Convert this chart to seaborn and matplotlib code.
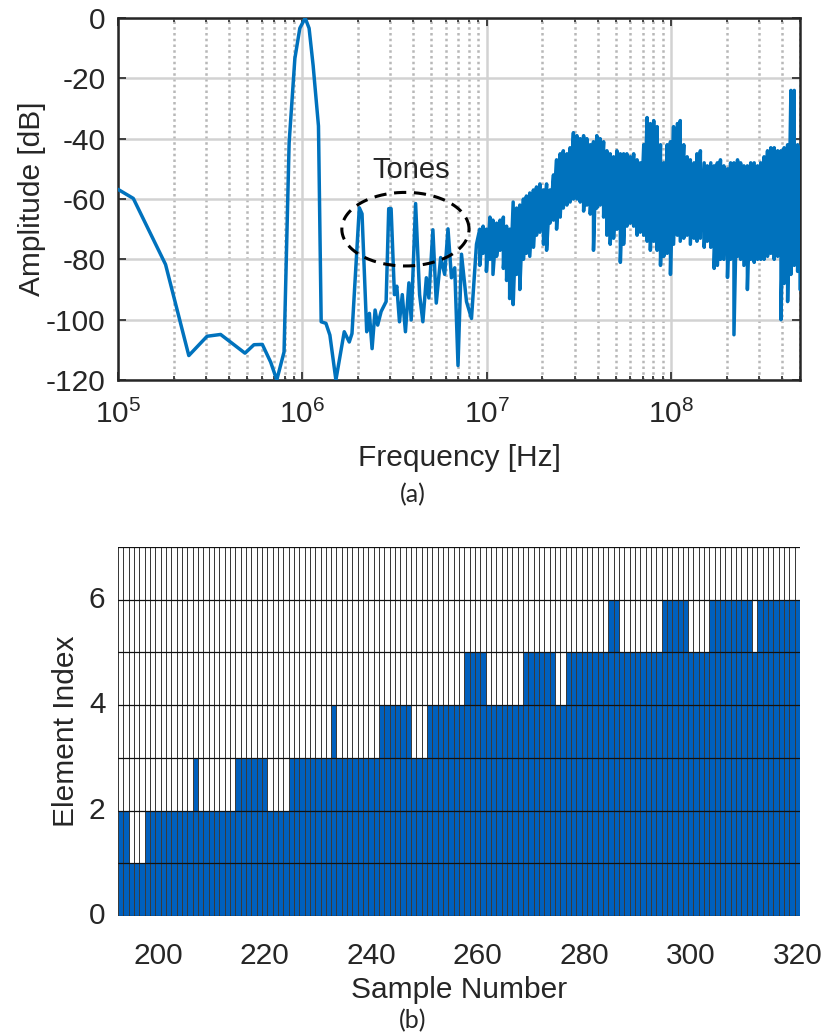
import numpy as np
import pandas as pd
import matplotlib
matplotlib.use("Agg")
import matplotlib.pyplot as plt
import seaborn as sns
from matplotlib.colors import ListedColormap
from matplotlib.ticker import LogLocator, NullFormatter

# (a) spectrum, low-frequency part traced point by point (MHz, dB)
lf_freq_mhz = [0.100, 0.121, 0.181, 0.242, 0.304, 0.360, 0.488, 0.546, 0.606, 0.673,
               0.726, 0.795, 0.847, 0.910, 0.968, 1.035, 1.087, 1.143, 1.222, 1.264,
               1.341, 1.409, 1.519, 1.686, 1.795, 1.857, 2.035, 2.105, 2.232, 2.308,
               2.387, 2.478, 2.560, 2.672, 2.760, 2.844, 2.938, 3.027, 3.155, 3.25,
               3.36, 3.48, 3.62, 3.78, 3.89, 4.11, 4.32, 4.50, 4.70, 4.85,
               5.10, 5.32, 5.62, 5.91, 6.16, 6.43, 6.70, 6.98, 7.29, 7.76,
               8.26, 8.79]
lf_db = [-56.8, -59.8, -81.7, -111.9, -105.5, -104.9, -111.1, -108.3, -108.2, -114.1,
         -120.0, -110.7, -41.4, -13.4, -3.4, 0.0, -3.4, -15.7, -35.8, -100.7,
         -101.2, -105.1, -120.0, -104.0, -107.4, -104.6, -62.9, -64.9, -104.0, -97.9,
         -109.6, -96.8, -101.8, -97.3, -95.6, -94.0, -63.2, -63.2, -91.7, -88.9,
         -100.7, -91.7, -104.0, -87.8, -100.1, -61.5, -91.7, -100.7, -86.1, -92.8,
         -70.2, -94.5, -79.4, -85.0, -69.9, -86.1, -82.8, -115.2, -78.3, -94.0,
         -99.6, -75.0]

# (a) spectrum, dense noise floor: upper / lower excursion read at each frequency
noise_freq_mhz = [9.16, 9.55, 9.95, 10.4, 10.8, 11.3, 11.8, 12.3, 12.8, 13.3,
                  13.9, 14.5, 15.1, 15.8, 16.4, 17.1, 17.9, 18.6, 19.4, 20.3,
                  21.1, 22.0, 23.0, 23.9, 25.0, 26.0, 27.2, 28.3, 29.5, 30.8,
                  32.1, 33.5, 34.9, 36.4, 37.9, 39.5, 41.2, 43.0, 44.8, 46.7,
                  48.7, 50.8, 53.0, 55.2, 57.5, 60.0, 62.6, 65.3, 68.0, 71.0,
                  74.0, 77.1, 80.4, 83.9, 87.5, 91.2, 95.1, 99.1, 103, 108,
                  112, 117, 122, 127, 133, 138, 144, 151, 157, 164,
                  171, 178, 185, 193, 202, 210, 219, 229, 238, 248,
                  259, 270, 282, 294, 306, 319, 333, 347, 362, 378,
                  394, 410, 428, 446, 465, 485, 500]
noise_hi = [-70, -69, -70, -66, -67, -68, -67, -66, -69, -70,
            -61, -63, -62, -60, -59, -58, -57, -56, -55, -57,
            -55, -57, -52, -47, -45, -44, -45, -43, -38, -39,
            -40, -39, -40, -42, -41, -39, -40, -41, -44, -45,
            -46, -44, -45, -45, -45, -46, -45, -47, -48, -42,
            -33, -35, -34, -36, -42, -48, -42, -41, -36, -35,
            -34, -42, -46, -47, -48, -45, -44, -48, -49, -48,
            -49, -48, -47, -49, -50, -48, -48, -47, -48, -49,
            -49, -48, -48, -49, -48, -46, -44, -43, -43, -44,
            -44, -43, -42, -24, -24, -42, -43]
noise_lo = [-82, -78, -84, -80, -85, -79, -77, -83, -87, -93,
            -95, -85, -90, -80, -78, -79, -76, -72, -71, -75,
            -77, -68, -67, -70, -66, -63, -62, -61, -60, -60,
            -61, -64, -62, -65, -77, -63, -62, -66, -72, -75,
            -73, -70, -81, -75, -69, -68, -69, -72, -71, -72,
            -74, -77, -74, -77, -82, -79, -78, -85, -75, -72,
            -74, -73, -72, -75, -73, -74, -73, -76, -74, -76,
            -83, -82, -80, -80, -86, -80, -105, -79, -80, -82,
            -90, -80, -81, -80, -80, -80, -79, -78, -80, -79,
            -100, -88, -94, -85, -82, -84, -90]

# "Tones" annotation: ellipse centre (MHz, dB), half-width (decades), half-height (dB)
tones_center = (3.62, -70.0)
tones_halfwidth_dec = 0.345
tones_halfheight_db = 12.2
tones_label_pos = (3.89, -50.3)

# (b) number of active elements per sample
samples = list(range(193, 321))
element_count = ([2] * 2 + [1] * 3 + [2] * 9 + [3] * 1 + [2] * 7 + [3] * 6 + [2] * 4 +
                 [3] * 8 + [4] * 1 + [3] * 8 + [4] * 6 + [3] * 3 + [4] * 7 + [5] * 4 +
                 [4] * 7 + [5] * 6 + [4] * 2 + [5] * 8 + [6] * 2 + [5] * 8 + [6] * 5 +
                 [5] * 4 + [6] * 8 + [5] * 1 + [6] * 8)
n_elements = 7

sns.set_style("ticks")
plt.rcParams['font.family'] = ['Liberation Sans', 'DejaVu Sans']
plt.rcParams['mathtext.fontset'] = 'custom'
plt.rcParams['mathtext.rm'] = 'Liberation Sans'
plt.rcParams['mathtext.it'] = 'Liberation Sans:italic'
plt.rcParams['axes.unicode_minus'] = False

line_blue = '#0072BD'
bar_blue = '#0060BE'
fs = 21.5

fig = plt.figure(figsize=(8.26, 10.36), dpi=100)
ax1 = fig.add_axes([0.1429, 0.6332, 0.8257, 0.3494])
ax2 = fig.add_axes([0.1429, 0.1158, 0.8257, 0.3562])

# ---------- (a) ----------
hi_lo_f = np.repeat(np.array(noise_freq_mhz), 2)
hi_lo_db = np.column_stack([noise_hi, noise_lo]).ravel()
spec = pd.DataFrame({
    'freq': np.concatenate([np.array(lf_freq_mhz), hi_lo_f]) * 1e6,
    'db': np.concatenate([np.array(lf_db, dtype=float), hi_lo_db]),
})
sns.lineplot(data=spec, x='freq', y='db', estimator=None, sort=False,
             color=line_blue, lw=2.5, ax=ax1, zorder=3)

t = np.linspace(0, 2 * np.pi, 300)
ell_x = 10 ** (np.log10(tones_center[0] * 1e6) + tones_halfwidth_dec * np.cos(t))
ell_y = tones_center[1] + tones_halfheight_db * np.sin(t)
ax1.plot(ell_x, ell_y, color='black', lw=2.2, ls=(0, (4, 2.5)), zorder=4)
ax1.text(tones_label_pos[0] * 1e6, tones_label_pos[1], 'Tones', fontsize=21,
         ha='center', va='center', zorder=5)

ax1.set_xscale('log')
ax1.set_xlim(1e5, 5e8)
ax1.set_ylim(-120, 0)
ax1.set_xticks([1e5, 1e6, 1e7, 1e8])
ax1.xaxis.set_minor_locator(LogLocator(base=10, subs=np.arange(2, 10)))
ax1.xaxis.set_minor_formatter(NullFormatter())
ax1.set_yticks(np.arange(-120, 1, 20))
ax1.set_yticklabels([str(v) for v in range(-120, 1, 20)])
ax1.grid(True, which='major', axis='both', color='#d2d2d2', lw=1.8, ls='-')
ax1.grid(True, which='minor', axis='x', color='#b8b8b8', lw=1.8, ls=(0, (1, 1.3)))
ax1.set_axisbelow(True)
ax1.tick_params(which='both', direction='in', top=True, right=True,
                labelsize=fs, width=1.2, color='#262626')
ax1.tick_params(axis='y', pad=9)
ax1.tick_params(axis='x', pad=14)
ax1.tick_params(which='major', length=6)
ax1.tick_params(which='minor', length=3)
for sp in ax1.spines.values():
    sp.set_color('#262626')
    sp.set_linewidth(1.8)
ax1.set_xlabel('Frequency [Hz]', fontsize=fs)
ax1.set_ylabel('Amplitude [dB]', fontsize=fs)
ax1.xaxis.set_label_coords(0.5, -0.178)
ax1.yaxis.set_label_coords(-0.106, 0.5)

# ---------- (b) ----------
occ = np.array([[1 if r < h else 0 for h in element_count] for r in range(n_elements)])
sns.heatmap(occ, cmap=ListedColormap(['white', bar_blue]), vmin=0, vmax=1,
            cbar=False, linewidths=0.45, linecolor='#3a3a3a', ax=ax2)
# row boundaries are drawn darker than the column boundaries
for level in range(n_elements + 1):
    ax2.axhline(level, color='#111111', lw=0.9, zorder=3)
ax2.set_xlim(0, len(samples))
ax2.set_ylim(0, n_elements)
x_ticks = list(range(200, 321, 20))
ax2.set_xticks([s - samples[0] + 0.5 for s in x_ticks])
ax2.set_xticklabels([str(s) for s in x_ticks], rotation=0)
ax2.set_yticks([0, 2, 4, 6])
ax2.set_yticklabels(['0', '2', '4', '6'], rotation=0)
ax2.tick_params(length=0, labelsize=fs)
ax2.tick_params(axis='x', pad=19)
ax2.tick_params(axis='y', pad=9)
ax2.set_xlabel('Sample Number', fontsize=fs)
ax2.set_ylabel('Element Index', fontsize=fs)
ax2.xaxis.set_label_coords(0.5, -0.162)
ax2.yaxis.set_label_coords(-0.056, 0.5)

fig.text(0.5, 1 - 495 / 1036, '(a)', fontsize=18, ha='center', va='center',
         family=['Lato', 'DejaVu Sans'])
fig.text(0.5, 1 - 1021 / 1036, '(b)', fontsize=18, ha='center', va='center',
         family=['Lato', 'DejaVu Sans'])

fig.savefig('out.png', dpi=100)
